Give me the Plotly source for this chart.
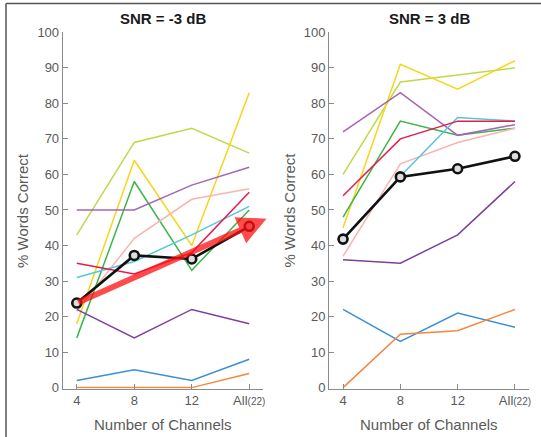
import plotly.graph_objects as go

# ---------------- data ----------------
channels = [0, 1, 2, 3]
channel_labels = ["4", "8", "12", "All<span style='font-size:10px'>(22)</span>"]
y_ticks = list(range(0, 101, 10))

subject_colors = ["#bfd94a", "#f7d51d", "#3cb54a", "#a366b5", "#f9b3b3",
                  "#55c8d8", "#e8194b", "#7d3f9e", "#3b8ed8", "#f7873e"]

snr_m3 = [
    [43, 69, 73, 66],
    [18, 64, 40, 83],
    [14, 58, 33, 50],
    [50, 50, 57, 62],
    [21.5, 42, 53, 56],
    [31, 35.5, 43, 51],
    [35, 32, 38, 55],
    [22, 14, 22, 18],
    [2, 5, 2, 8],
    [0, 0, 0, 4],
]
mean_m3 = [23.8, 37.2, 36.2, 45.4]

snr_p3 = [
    [60, 86, 88, 90],
    [45, 91, 84, 92],
    [48, 75, 71, 73],
    [72, 83, 71, 74],
    [37, 63, 69, 73],
    [42, 59.5, 76, 75],
    [54, 70, 75, 75],
    [36, 35, 43, 58],
    [22, 13, 21, 17],
    [0, 15, 16, 22],
]
mean_p3 = [41.8, 59.3, 61.6, 65.1]

titles = ["SNR = -3 dB", "SNR = 3 dB"]

# ---------------- figure ----------------
W, H = 541, 437
FONT = "Liberation Sans, Arial, Helvetica, sans-serif"
TXT = "#5a5a5a"
AX = "#8a8a8a"

fig = go.Figure()

panels = [(snr_m3, mean_m3, "x", "y"), (snr_p3, mean_p3, "x2", "y2")]
for pi, (subj, mean, xa, ya) in enumerate(panels):
    for vals, col in zip(subj, subject_colors):
        fig.add_trace(go.Scatter(x=channels, y=vals, mode="lines",
                                 line=dict(color=col, width=1.5),
                                 xaxis=xa, yaxis=ya, showlegend=False,
                                 hoverinfo="skip"))
    fig.add_trace(go.Scatter(x=channels, y=mean, mode="lines+markers",
                             line=dict(color="#111111", width=2.6),
                             marker=dict(symbol="circle", size=9, color="#dddddd",
                                         line=dict(color="#111111", width=2.6)),
                             xaxis=xa, yaxis=ya, showlegend=False,
                             hoverinfo="skip", cliponaxis=False))

def px_x(p):
    return p / W

def px_y(p):
    return (H - p) / H

xdoms = [(px_x(62.7), px_x(263.3)), (px_x(329), px_x(529))]
ydom = (px_y(388.5), px_y(32.3))

common_x = dict(range=[-0.245, 3.245], tickmode="array", tickvals=channels,
                ticktext=channel_labels, showline=True, linecolor=AX, linewidth=1,
                ticks="inside", ticklen=5, tickcolor=AX, showgrid=False,
                zeroline=False, tickfont=dict(family=FONT, size=13, color=TXT),
                fixedrange=True, automargin=False)
common_y = dict(range=[-0.25, 100], tickmode="array", tickvals=y_ticks,
                showline=True, linecolor=AX, linewidth=1,
                ticks="inside", ticklen=5, tickcolor=AX, showgrid=False,
                zeroline=False, tickfont=dict(family=FONT, size=13, color=TXT),
                fixedrange=True, automargin=False)

fig.update_layout(
    width=W, height=H,
    margin=dict(l=0, r=0, t=0, b=0, pad=0, autoexpand=False),
    paper_bgcolor="white", plot_bgcolor="white",
    xaxis=dict(domain=list(xdoms[0]), anchor="y", **common_x),
    yaxis=dict(domain=list(ydom), anchor="x", **common_y),
    xaxis2=dict(domain=list(xdoms[1]), anchor="y2", **common_x),
    yaxis2=dict(domain=list(ydom), anchor="x2", **common_y),
)

annotations = []
for i, (d0, d1) in enumerate(xdoms):
    cx = (d0 + d1) / 2
    annotations.append(dict(text="<b>" + titles[i] + "</b>", x=cx, y=px_y(19),
                            xref="paper", yref="paper", showarrow=False,
                            xanchor="center", yanchor="middle",
                            font=dict(family=FONT, size=15, color="#1a1a1a")))
    annotations.append(dict(text="Number of Channels", x=cx, y=px_y(424),
                            xref="paper", yref="paper", showarrow=False,
                            xanchor="center", yanchor="middle",
                            font=dict(family=FONT, size=15, color=TXT)))
for xc in (22.5, 289):
    annotations.append(dict(text="% Words Correct", x=px_x(xc), y=(ydom[0] + ydom[1]) / 2,
                            xref="paper", yref="paper", showarrow=False,
                            textangle=-90, xanchor="center", yanchor="middle",
                            font=dict(family=FONT, size=15, color=TXT)))

# red trend arrow: from first to last mean of the -3 dB panel, tip slightly extended
x0, y0 = channels[0], mean_m3[0]
x1, y1 = channels[-1], mean_m3[-1]
ext = 1.1
tip_x = x0 + (x1 - x0) * ext
tip_y = y0 + (y1 - y0) * ext
annotations.append(dict(x=tip_x, y=tip_y, ax=x0, ay=y0, xref="x", yref="y",
                        axref="x", ayref="y", text="", showarrow=True,
                        arrowhead=2, arrowsize=0.95, arrowwidth=6,
                        arrowcolor="rgba(255,15,15,0.75)", standoff=0,
                        startstandoff=0))
fig.update_layout(annotations=annotations)

# outer frame (left and top edges)
fig.add_shape(type="line", xref="paper", yref="paper",
              x0=px_x(6), x1=px_x(6), y0=0, y1=px_y(3.5),
              line=dict(color="#555555", width=1.5))
fig.add_shape(type="line", xref="paper", yref="paper",
              x0=px_x(6), x1=1, y0=px_y(3.5), y1=px_y(3.5),
              line=dict(color="#555555", width=1.5))

fig.write_html("out.html")
